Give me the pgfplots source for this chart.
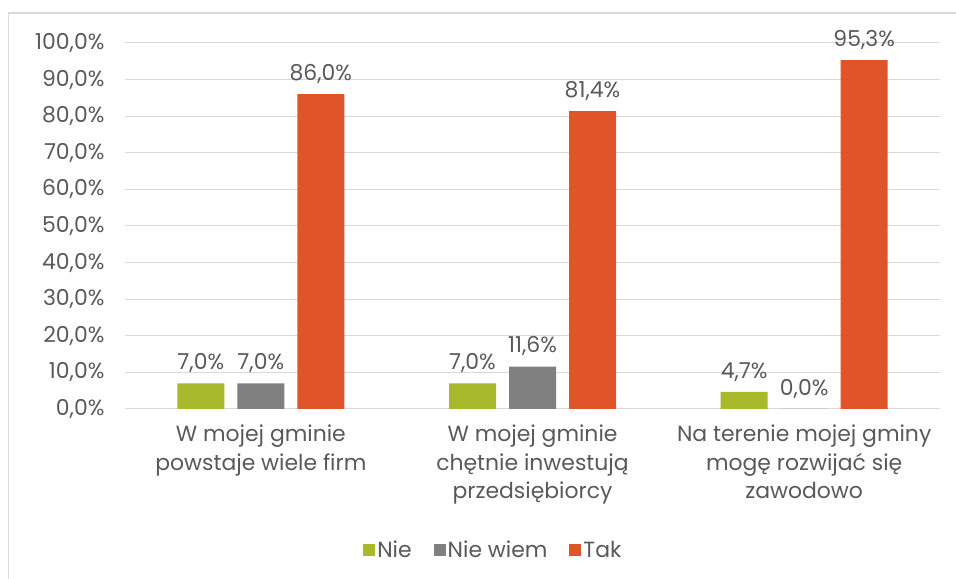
\documentclass[border=0pt]{standalone}
\usepackage{pgfplots}
\pgfplotsset{compat=1.18}
\usepackage{fontspec}
\setmainfont{Poppins}
\definecolor{cgreen}{HTML}{A8B92B}
\definecolor{cgrey}{HTML}{808080}
\definecolor{corange}{HTML}{E0542A}
\definecolor{ctext}{HTML}{595959}
\definecolor{cgrid}{HTML}{D9D9D9}
\begin{document}
\begin{tikzpicture}[x=1bp,y=1bp]
\useasboundingbox (0,0) rectangle (956,579);
\draw[cgrid, line width=1.5bp] (8.5,-5) -- (8.5,566) -- (970,566);
\begin{axis}[
  at={(125bp,170bp)}, anchor=south west,
  scale only axis, width=815bp, height=366bp,
  xmin=-0.5, xmax=2.5, ymin=0, ymax=100,
  ytick={0,10,...,100},
  xtick={0,1,2},
  xticklabels={{W mojej gminie\\powstaje wiele firm},{W mojej gminie\\chętnie inwestują\\przedsiębiorcy},{Na terenie mojej gminy\\mogę rozwijać się\\zawodowo}},
  major tick length=0,
  axis line style={draw=none},
  ymajorgrids, major grid style={cgrid, line width=1bp},
  /pgf/number format/assume math mode=true,
  yticklabel={\pgfmathprintnumber[fixed,fixed zerofill,precision=1,use comma]{\tick}\%},
  yticklabel style={font=\fontsize{22}{24}\selectfont, text=ctext, anchor=east, xshift=-17bp},
  xticklabel style={font=\fontsize{22}{29}\selectfont, text=ctext, align=center, anchor=north, yshift=-12bp},
  ybar=13bp, bar width=47bp,
  nodes near coords={\pgfmathprintnumber[fixed,fixed zerofill,precision=1,use comma]{\pgfplotspointmeta}\%},
  nodes near coords style={font=\fontsize{22}{24}\selectfont, text=ctext, yshift=7bp},
  legend style={at={(0.452,-0.385)}, anchor=center, draw=none, legend columns=3,
    font=\fontsize{22}{24}\selectfont, text=ctext, inner sep=0pt,
    /tikz/every even column/.append style={column sep=20bp},
    /tikz/every odd column/.append style={column sep=0bp}},
  legend cell align=left,
  legend image code/.code={\fill[#1] (0bp,-6bp) rectangle (12bp,6bp);},
]
\addplot[fill=cgreen, draw=none] coordinates {(0,7.0) (1,7.0) (2,4.7)};
\addplot[fill=cgrey, draw=none] coordinates {(0,7.0) (1,11.6) (2,0.0)};
\addplot[fill=corange, draw=none] coordinates {(0,86.0) (1,81.4) (2,95.3)};
\legend{Nie, Nie wiem, Tak}
\end{axis}
\end{tikzpicture}
\end{document}
